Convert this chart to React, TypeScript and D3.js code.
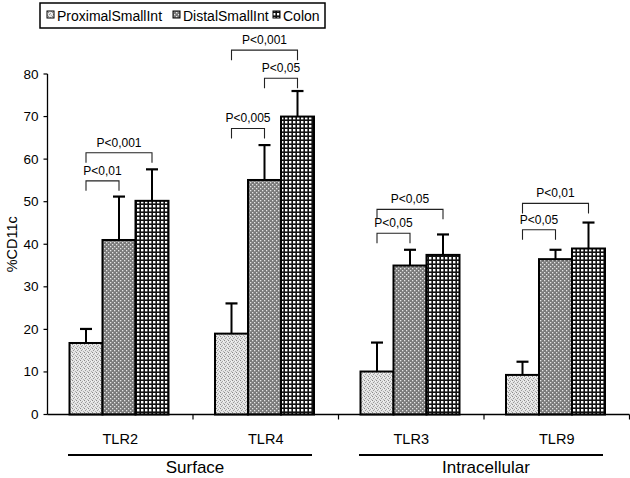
import React from "react";
import * as d3 from "d3";

const categories = ["TLR2", "TLR4", "TLR3", "TLR9"];
const series = ["ProximalSmallInt", "DistalSmallInt", "Colon"];
const means = [
  [16.8, 41.0, 50.2],
  [19.0, 55.1, 70.0],
  [10.1, 35.0, 37.5],
  [9.3, 36.5, 39.0],
];
const errors = [
  [3.3, 10.2, 7.4],
  [7.1, 8.2, 6.0],
  [6.8, 3.7, 4.8],
  [3.1, 2.2, 6.1],
];
const yTicks = [0, 10, 20, 30, 40, 50, 60, 70, 80];
// significance brackets: [categoryIndex, fromSeries, toSeries, label, yTop(value units)]
const brackets: [number, number, number, string, number][] = [
  [0, 0, 1, "P<0,01", 54.9],
  [0, 0, 2, "P<0,001", 61.5],
  [1, 0, 1, "P<0,005", 67.2],
  [1, 1, 2, "P<0,05", 79.0],
  [1, 0, 2, "P<0,001", 85.6],
  [2, 0, 1, "P<0,05", 42.6],
  [2, 0, 2, "P<0,05", 48.2],
  [3, 0, 1, "P<0,05", 43.4],
  [3, 0, 2, "P<0,01", 49.6],
];
const groups: [string, number, number][] = [
  ["Surface", 0, 1],
  ["Intracellular", 2, 3],
];

const FONT = "Liberation Sans, Arial, sans-serif";

export default function App() {
  const W = 630;
  const H = 478;
  const x0 = 47.5;
  const x1 = 629.5;
  const y = d3.scaleLinear().domain([0, 80]).range([414.5, 74]);
  const xc = d3.scaleBand<string>().domain(categories).range([x0, x1]).padding(0);
  const xs = d3.scaleBand<string>().domain(series).range([22, 121]).padding(0);
  const fills = ["url(#pProx)", "url(#pDist)", "url(#pColon)"];
  const barCenter = (ci: number, si: number) =>
    (xc(categories[ci]) as number) + (xs(series[si]) as number) + xs.bandwidth() / 2;

  const legendItems = [
    { x: 47, tx: 57 },
    { x: 173, tx: 183 },
    { x: 273, tx: 283 },
  ];

  return (
    <svg width={W} height={H} style={{ position: "absolute", left: 0, top: 0, background: "#fff" }}>
      <defs>
        <pattern id="pProx" width="4" height="4" patternUnits="userSpaceOnUse">
          <rect width="4" height="4" fill="#e4e4e4" />
          <rect x="0" y="0" width="1" height="1" fill="#8a8a8a" />
          <rect x="2" y="1" width="1" height="1" fill="#a8a8a8" />
          <rect x="1" y="2" width="1" height="1" fill="#9a9a9a" />
          <rect x="3" y="3" width="1" height="1" fill="#b0b0b0" />
          <rect x="3" y="1" width="1" height="1" fill="#f6f6f6" />
        </pattern>
        <pattern id="pDist" width="4" height="4" patternUnits="userSpaceOnUse">
          <rect width="4" height="4" fill="#7a7a7a" />
          <rect x="0" y="0" width="1.3" height="1.3" fill="#e6e6e6" />
          <rect x="2" y="2" width="1.3" height="1.3" fill="#e6e6e6" />
        </pattern>
        <pattern id="pColon" width="4" height="4" patternUnits="userSpaceOnUse">
          <rect width="4" height="4" fill="#111" />
          <rect x="1" y="1" width="2.4" height="2.4" fill="#fff" />
        </pattern>
      </defs>

      {/* legend */}
      <rect x={40} y={3} width={285} height={25} fill="#fff" stroke="#000" strokeWidth={1.5} />
      {series.map((s, i) => (
        <g key={s}>
          <rect x={legendItems[i].x} y={11} width={7} height={7} fill={fills[i]} stroke="#000" strokeWidth={1} />
          <text x={legendItems[i].tx} y={20.5} fontFamily={FONT} fontSize={14} fill="#000">
            {s}
          </text>
        </g>
      ))}

      {/* y axis */}
      <line x1={x0} x2={x0} y1={y(80)} y2={y(0)} stroke="#000" strokeWidth={1.3} />
      {yTicks.map((t) => (
        <g key={t}>
          <line x1={x0 - 4} x2={x0} y1={y(t)} y2={y(t)} stroke="#000" strokeWidth={1.2} />
          <text x={x0 - 9} y={y(t) + 4.5} textAnchor="end" fontFamily={FONT} fontSize={13.5} fill="#000">
            {t}
          </text>
        </g>
      ))}
      <text
        transform={`translate(17,${(y(0) + y(80)) / 2}) rotate(-90)`}
        textAnchor="middle"
        fontFamily={FONT}
        fontSize={14.5}
        fill="#000"
      >
        %CD11c
      </text>

      {/* bars */}
      {categories.map((c, ci) =>
        series.map((s, si) => {
          const bx = (xc(c) as number) + (xs(s) as number);
          const v = means[ci][si];
          const cx = barCenter(ci, si);
          const et = y(v + errors[ci][si]);
          return (
            <g key={c + s}>
              <line x1={cx} x2={cx} y1={y(v)} y2={et} stroke="#000" strokeWidth={2} />
              <line x1={cx - 6} x2={cx + 6} y1={et} y2={et} stroke="#000" strokeWidth={2.2} />
              <rect
                x={bx}
                y={y(v)}
                width={xs.bandwidth()}
                height={y(0) - y(v)}
                fill={fills[si]}
                stroke="#000"
                strokeWidth={2}
              />
            </g>
          );
        })
      )}

      {/* x axis */}
      <line x1={x0} x2={x1} y1={y(0)} y2={y(0)} stroke="#000" strokeWidth={1.5} />
      {categories.map((c) => (
        <line
          key={"t" + c}
          x1={(xc(c) as number) + xc.bandwidth()}
          x2={(xc(c) as number) + xc.bandwidth()}
          y1={y(0)}
          y2={y(0) + 5}
          stroke="#000"
          strokeWidth={1.2}
        />
      ))}
      {categories.map((c) => (
        <text
          key={"l" + c}
          x={(xc(c) as number) + xc.bandwidth() / 2}
          y={444}
          textAnchor="middle"
          fontFamily={FONT}
          fontSize={14.5}
          fill="#000"
        >
          {c}
        </text>
      ))}

      {/* groups */}
      {groups.map(([name, a, b]) => {
        const gx1 = (xc(categories[a]) as number) + 20.5;
        const gx2 = (xc(categories[b]) as number) + xc.bandwidth() - 26.5;
        return (
          <g key={name}>
            <line x1={gx1} x2={gx2} y1={455} y2={455} stroke="#000" strokeWidth={2} />
            <text
              x={(gx1 + gx2) / 2 + 5}
              y={473}
              textAnchor="middle"
              fontFamily={FONT}
              fontSize={17}
              fill="#000"
            >
              {name}
            </text>
          </g>
        );
      })}

      {/* significance brackets */}
      {brackets.map(([ci, a, b, label, top], i) => {
        const xa = barCenter(ci, a);
        const xb = barCenter(ci, b);
        const yt = y(top);
        return (
          <g key={"b" + i}>
            <path
              d={`M${xa},${yt + 10}V${yt}H${xb}V${yt + 10}`}
              fill="none"
              stroke="#222"
              strokeWidth={1.1}
            />
            <text
              x={(xa + xb) / 2}
              y={yt - 6}
              textAnchor="middle"
              fontFamily={FONT}
              fontSize={12}
              fill="#000"
            >
              {label}
            </text>
          </g>
        );
      })}
    </svg>
  );
}
